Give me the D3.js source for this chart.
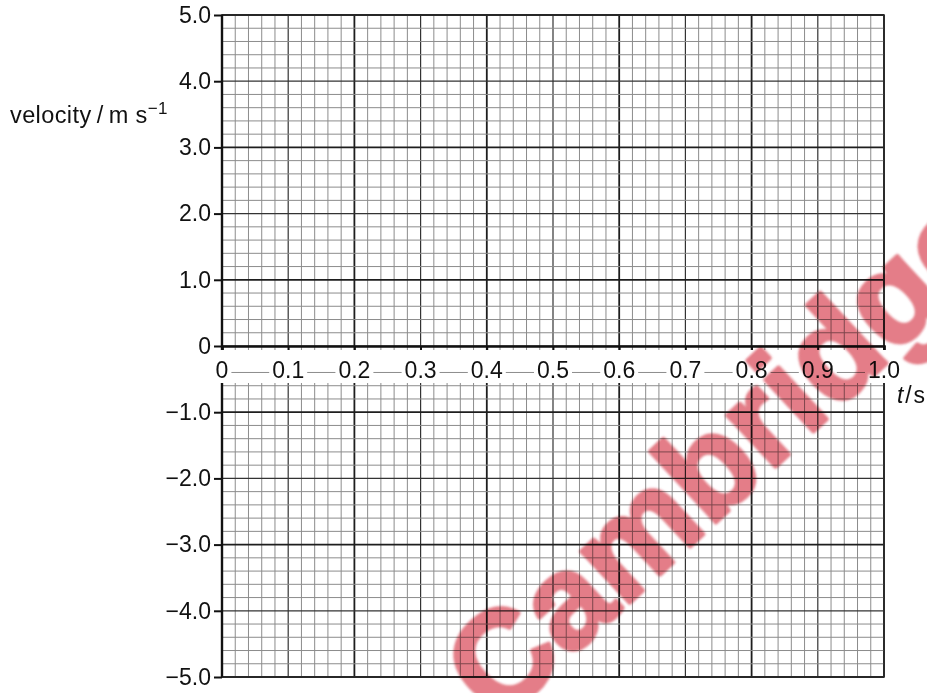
<!DOCTYPE html>
<html>
<head>
<meta charset="utf-8">
<script src="https://cdn.jsdelivr.net/npm/d3@7/dist/d3.min.js"></script>
<style>
  html, body { margin: 0; padding: 0; background: #fff; }
  svg { display: block; }
  text { font-family: "Liberation Sans", Arial, Helvetica, sans-serif; fill: #111; }
</style>
</head>
<body>
<svg id="chart" width="927" height="693"></svg>
<script>
// Axis ranges and tick labels
const xDomain = [0, 1.0];
const yDomain = [-5, 5];
const xTickValues = [0, 0.1, 0.2, 0.3, 0.4, 0.5, 0.6, 0.7, 0.8, 0.9, 1.0];
const xTickLabels = ["0", "0.1", "0.2", "0.3", "0.4", "0.5", "0.6", "0.7", "0.8", "0.9", "1.0"];
const yTickValues = [5, 4, 3, 2, 1, 0, -1, -2, -3, -4, -5];
const yTickLabels = ["5.0", "4.0", "3.0", "2.0", "1.0", "0", "\u22121.0", "\u22122.0", "\u22123.0", "\u22124.0", "\u22125.0"];
// Grid spacing (graph paper): small squares, medium and heavy lines
const xMinorStep = 0.02, xMidStep = 0.1, xMajorStep = 0.2;
const yMinorStep = 0.2, yMidStep = 1, yMajorStep = 2;
const yAxisTitle = "velocity\u2009/\u2009m s";
const yAxisTitleSup = "\u22121";
const xAxisTitleVar = "t";
const xAxisTitleUnit = "\u200A/\u200As";
const watermark = "Cambridge";

const svg = d3.select("#chart");
const x = d3.scaleLinear().domain(xDomain).range([222, 884]);
const y = d3.scaleLinear().domain(yDomain).range([677, 15]);

const eps = 1e-6;
const isMult = (v, s) => Math.abs(v / s - Math.round(v / s)) < eps;

// Grid lines
const xs = d3.range(0, 50 + 1).map(i => +(i * xMinorStep).toFixed(4));
const ys = d3.range(0, 50 + 1).map(i => +(-5 + i * yMinorStep).toFixed(4));

function xStyle(v) {
  // heavy lines start from the left edge every 0.2
  if (isMult(v - xDomain[0], xMajorStep)) return { c: "#1e1e1e", w: 1.8 };
  if (isMult(v, xMidStep)) return { c: "#333", w: 1.2 };
  return { c: "#8c8c8c", w: 1 };
}
function yStyle(v) {
  // heavy lines counted down from the top edge every 2.0
  if (isMult(yDomain[1] - v, yMajorStep)) return { c: "#1e1e1e", w: 1.8 };
  if (isMult(v, yMidStep)) return { c: "#333", w: 1.2 };
  return { c: "#8c8c8c", w: 1 };
}

const grid = svg.append("g").attr("class", "grid");
// draw light lines first so heavier ones sit on top
const order = s => s.w;
grid.selectAll("line.v").data(xs.slice().sort((a, b) => order(xStyle(a)) - order(xStyle(b))))
  .join("line").attr("class", "v")
  .attr("x1", d => x(d)).attr("x2", d => x(d))
  .attr("y1", y(yDomain[1])).attr("y2", y(yDomain[0]))
  .attr("stroke", d => xStyle(d).c).attr("stroke-width", d => xStyle(d).w);
grid.selectAll("line.h").data(ys.slice().sort((a, b) => order(yStyle(a)) - order(yStyle(b))))
  .join("line").attr("class", "h")
  .attr("y1", d => y(d)).attr("y2", d => y(d))
  .attr("x1", x(xDomain[0])).attr("x2", x(xDomain[1]))
  .attr("stroke", d => yStyle(d).c).attr("stroke-width", d => yStyle(d).w);

// Outer frame
svg.append("rect")
  .attr("x", x(0)).attr("y", y(5))
  .attr("width", x(1) - x(0)).attr("height", y(-5) - y(5))
  .attr("fill", "none").attr("stroke", "#2a2a2a").attr("stroke-width", 1.6);

// Left axis line
svg.append("line")
  .attr("x1", x(0)).attr("x2", x(0)).attr("y1", y(5)).attr("y2", y(-5))
  .attr("stroke", "#111").attr("stroke-width", 2.4);

// Clear band under the x tick labels, leaving the -0.4 grid line between labels
const bandTop = y(0) + 4, bandBottom = y(0) + 37;
svg.append("rect")
  .attr("x", x(0) - 12).attr("y", bandTop)
  .attr("width", x(1) - x(0) + 24).attr("height", bandBottom - bandTop)
  .attr("fill", "#fff");
svg.append("line")
  .attr("x1", x(0)).attr("x2", x(1))
  .attr("y1", y(-0.4)).attr("y2", y(-0.4))
  .attr("stroke", "#8c8c8c").attr("stroke-width", 1);

// x axis (t) along v = 0, ticks pointing down
const xAxis = d3.axisBottom(x).tickValues(xTickValues).tickSize(8).tickFormat("");
const gx = svg.append("g").attr("transform", `translate(0,${y(0)})`).call(xAxis);
gx.select(".domain").attr("stroke", "#111").attr("stroke-width", 2.6);
gx.selectAll(".tick line").attr("stroke", "#111").attr("stroke-width", 1.8);

const xLab = svg.append("g");
xTickValues.forEach((v, i) => {
  const g = xLab.append("g");
  const t = g.append("text")
    .attr("x", x(v)).attr("y", y(0) + 32)
    .attr("text-anchor", "middle")
    .attr("font-size", 23)
    .text(xTickLabels[i]);
  const w = t.node().getComputedTextLength();
  g.insert("rect", "text")
    .attr("x", x(v) - w / 2 - 3).attr("y", bandTop)
    .attr("width", w + 6).attr("height", bandBottom - bandTop)
    .attr("fill", "#fff");
});

// y axis ticks and labels
const yAxis = d3.axisLeft(y).tickValues(yTickValues).tickSize(8).tickFormat((d, i) => yTickLabels[i]);
const gy = svg.append("g").attr("transform", `translate(${x(0)},0)`).call(yAxis);
gy.select(".domain").remove();
gy.selectAll(".tick line").attr("stroke", "#111").attr("stroke-width", 2);
gy.selectAll(".tick text")
  .attr("x", -11)
  .attr("font-size", 23)
  .attr("font-family", "Liberation Sans, Arial, sans-serif")
  .attr("fill", "#111");

// Axis titles
const yt = svg.append("text").attr("x", 10).attr("y", 123).attr("font-size", 23.5)
  .attr("letter-spacing", 0.4);
yt.append("tspan").text(yAxisTitle);
yt.append("tspan").attr("dy", -9).attr("font-size", 17).text(yAxisTitleSup);

const xt = svg.append("text").attr("x", 925).attr("y", 403).attr("font-size", 23)
  .attr("text-anchor", "end");
xt.append("tspan").attr("font-style", "italic").text(xAxisTitleVar);
xt.append("tspan").text(xAxisTitleUnit);

// Watermark across the lower right
const defs = svg.append("defs");
defs.append("filter").attr("id", "soft")
  .attr("x", "-10%").attr("y", "-10%").attr("width", "120%").attr("height", "120%")
  .append("feGaussianBlur").attr("stdDeviation", 1.2);

svg.append("text")
  .attr("transform", "translate(728,462) rotate(-43)")
  .attr("text-anchor", "middle")
  .attr("dy", "0.27em")
  .attr("font-size", 133)
  .attr("font-weight", "bold")
  .attr("font-family", "DejaVu Sans, Liberation Sans, sans-serif")
  .style("fill", "rgb(210,40,55)")
  .style("stroke", "rgb(210,40,55)")
  .style("stroke-width", 4)
  .style("stroke-linejoin", "round")
  .style("opacity", 0.6)
  .style("mix-blend-mode", "multiply")
  .attr("filter", "url(#soft)")
  .text(watermark);
</script>
</body>
</html>
